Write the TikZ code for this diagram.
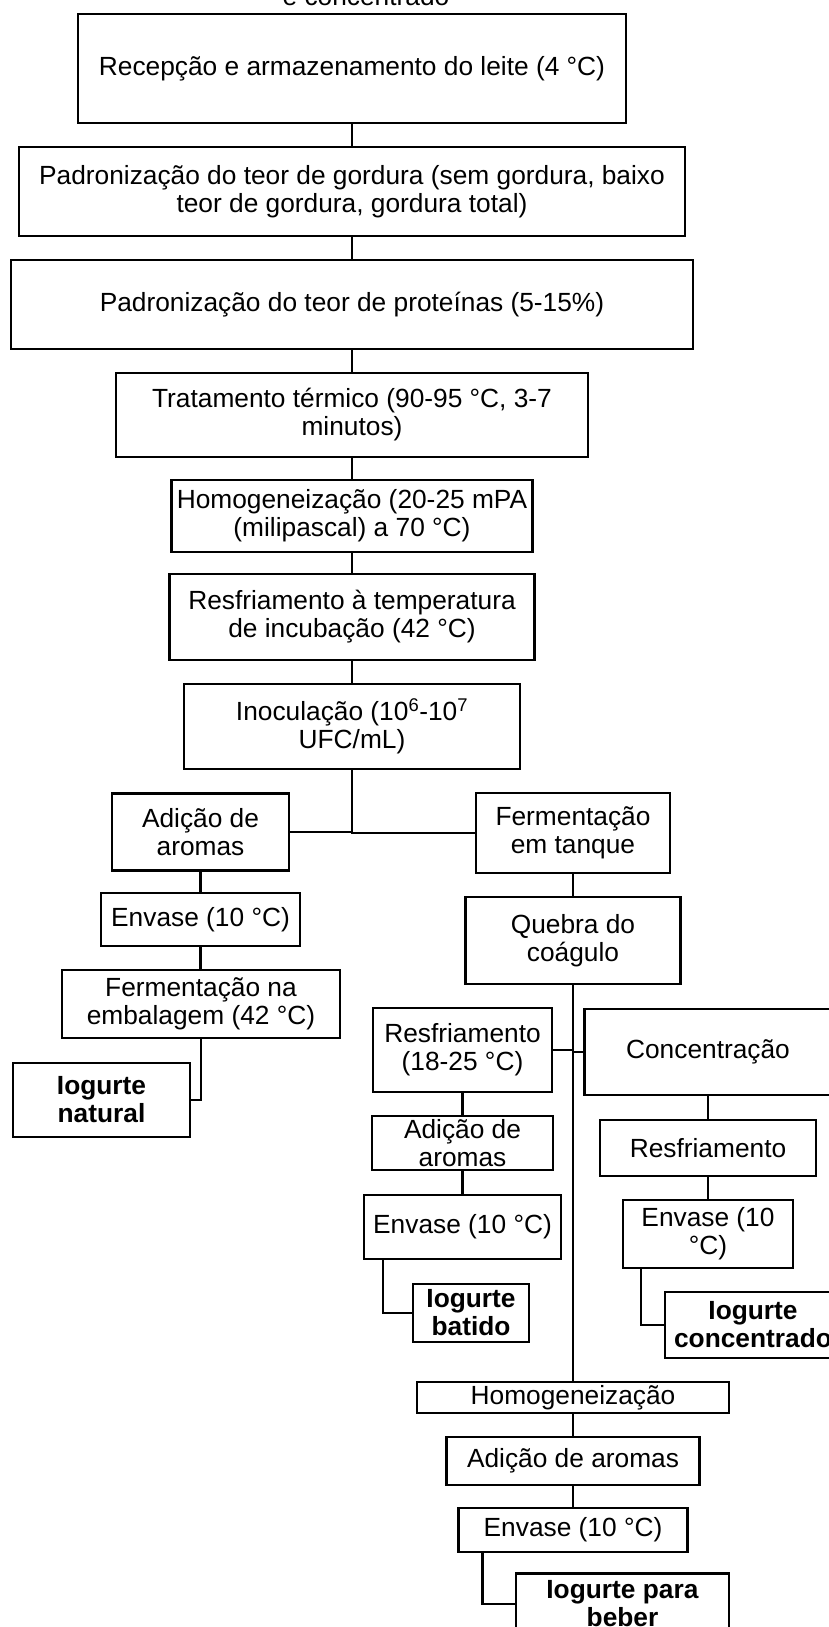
\documentclass[tikz,border=0pt]{standalone}
\usepackage{fontspec}
\setmainfont{Liberation Sans}
\begin{document}
\begin{tikzpicture}[x=1pt,y=-1pt,
  every node/.style={font=\fontsize{26.3}{28}\selectfont},
  box/.style={draw=black,line width=2.2pt,inner sep=0pt,align=center,rectangle},
  conn/.style={line width=2.2pt,draw=black}]
\useasboundingbox (0,0) rectangle (828,1627);
\fill[white] (0,0) rectangle (828,1627);
% cut-off title line
\node[anchor=base,inner sep=0pt] (title) at (366,6) {e concentrado};
% main chain
\node[box,minimum width=548pt,minimum height=109pt] (b1) at (352,68.5) {Recepção e armazenamento do leite (4 °C)};
\node[box,minimum width=666pt,minimum height=89pt] (b2) at (352,191.5) {Padronização do teor de gordura (sem gordura, baixo\\teor de gordura, gordura total)};
\node[box,minimum width=682pt,minimum height=89pt] (b3) at (352,304.5) {Padronização do teor de proteínas (5-15\%)};
\node[box,minimum width=472pt,minimum height=84pt] (b4) at (352,415) {Tratamento térmico (90-95 °C, 3-7\\minutos)};
\node[box,minimum width=361pt,minimum height=72pt] (b5) at (352,516) {Homogeneização (20-25 mPA\\(milipascal) a 70 °C)};
\node[box,minimum width=365pt,minimum height=86pt] (b6) at (352,617) {Resfriamento à temperatura\\de incubação (42 °C)};
\node[box,minimum width=336pt,minimum height=85pt] (b7) at (352,726.5) {Inoculação (10\textsuperscript{6}-10\textsuperscript{7}\\UFC/mL)};
% left branch
\node[box,minimum width=177pt,minimum height=77pt] (aL) at (200.5,832) {Adição de\\aromas};
\node[box,minimum width=199pt,minimum height=53pt] (eL) at (200.5,919.5) {Envase (10 °C)};
\node[box,minimum width=278pt,minimum height=68pt] (fE) at (201,1004) {Fermentação na\\embalagem (42 °C)};
\node[box,minimum width=177pt,minimum height=74pt] (iN) at (101.5,1100) {\textbf{Iogurte}\\\textbf{natural}};
% right branch
\node[box,minimum width=194pt,minimum height=80pt] (fT) at (573,833) {Fermentação\\em tanque};
\node[box,minimum width=215pt,minimum height=87pt] (qC) at (573,940.5) {Quebra do\\coágulo};
% batido
\node[box,minimum width=179pt,minimum height=84pt] (rM) at (462.5,1050) {Resfriamento\\(18-25 °C)};
\node[box,minimum width=181pt,minimum height=54pt] (aM) at (462.5,1143) {Adição de\\aromas};
\node[box,minimum width=197pt,minimum height=64pt] (eM) at (462.5,1227) {Envase (10 °C)};
\node[box,minimum width=116pt,minimum height=58pt] (iB) at (471,1313) {\textbf{Iogurte}\\\textbf{batido}};
% concentrado
\node[box,minimum width=247pt,minimum height=86pt] (cC) at (708,1052) {Concentração};
\node[box,minimum width=216pt,minimum height=56pt] (rR) at (708,1148) {Resfriamento};
\node[box,minimum width=170pt,minimum height=68pt] (eR) at (708,1234) {Envase (10\\°C)};
\node[box,minimum width=176pt,minimum height=66pt] (iC) at (753,1325) {\textbf{Iogurte}\\\textbf{concentrado}};
% para beber
\node[box,minimum width=312pt,minimum height=31pt] (hD) at (573,1397.5) {Homogeneização};
\node[box,minimum width=253pt,minimum height=48pt] (aD) at (573,1461) {Adição de aromas};
\node[box,minimum width=229pt,minimum height=44pt] (eD) at (573,1530) {Envase (10 °C)};
\node[box,minimum width=213pt,minimum height=61pt] (iP) at (622.5,1604) {\textbf{Iogurte para}\\\textbf{beber}};
% connectors main
\draw[conn] (b1.south) -- (b2.north);
\draw[conn] (b2.south) -- (b3.north);
\draw[conn] (b3.south) -- (b4.north);
\draw[conn] (b4.south) -- (b5.north);
\draw[conn] (b5.south) -- (b6.north);
\draw[conn] (b6.south) -- (b7.north);
\draw[conn] (b7.south) |- (fT.west);
\draw[conn] (aL.east) -- (aL.east -| b7.south);
% left
\draw[conn] (aL.south) -- (eL.north);
\draw[conn] (eL.south) -- (eL.south |- fE.north);
\draw[conn] (fE.south) |- (iN.east);
% right
\draw[conn] (fT.south) -- (qC.north);
\draw[conn] (qC.south) -- (hD.north);
\draw[conn] (rM.east) -- (rM.east -| qC.south);
\draw[conn] (cC.west) -- (cC.west -| qC.south);
\draw[conn] (rM.south) -- (aM.north);
\draw[conn] (aM.south) -- (eM.north);
\draw[conn] ([xshift=-79.5pt]eM.south) |- (iB.west);
\draw[conn] (cC.south) -- (rR.north);
\draw[conn] (rR.south) -- (eR.north);
\draw[conn] ([xshift=-67pt]eR.south) |- (iC.west);
\draw[conn] (hD.south) -- (aD.north);
\draw[conn] (aD.south) -- (eD.north);
\draw[conn] ([xshift=-90.5pt]eD.south) |- (iP.west);
\end{tikzpicture}
\end{document}
